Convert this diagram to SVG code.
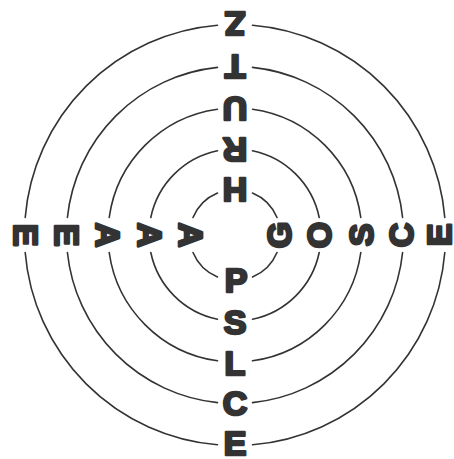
<svg xmlns="http://www.w3.org/2000/svg" width="454" height="459" viewBox="0 0 454 459">
<style>
.ring{fill:none;stroke:#333;stroke-width:1.6;stroke-linecap:round}
.l{font-family:"Liberation Sans",Arial,sans-serif;font-weight:bold;font-size:34px;fill:#333;stroke:#333;stroke-width:2.6;stroke-linejoin:round;text-anchor:middle}
</style>
<rect width="454" height="459" fill="#fff"/>
<g id="rings">
<path class="ring" d="M252.5,193 A45.5,45.5 0 0 1 277,217.5 M277,252.5 A45.5,45.5 0 0 1 252.5,277 M217.5,277 A45.5,45.5 0 0 1 193,252.5 M193,217.5 A45.5,45.5 0 0 1 217.5,193"/>
<path class="ring" d="M252.5,150.8 A86,86 0 0 1 319.2,217.5 M319.2,252.5 A86,86 0 0 1 252.5,319.2 M217.5,319.2 A86,86 0 0 1 150.8,252.5 M150.8,217.5 A86,86 0 0 1 217.5,150.8"/>
<path class="ring" d="M252.5,109.2 A127,127 0 0 1 360.8,217.5 M360.8,252.5 A127,127 0 0 1 252.5,360.8 M217.5,360.8 A127,127 0 0 1 109.2,252.5 M109.2,217.5 A127,127 0 0 1 217.5,109.2"/>
<path class="ring" d="M252.5,67.4 A168.5,168.5 0 0 1 402.6,217.5 M402.6,252.5 A168.5,168.5 0 0 1 252.5,402.6 M217.5,402.6 A168.5,168.5 0 0 1 67.4,252.5 M67.4,217.5 A168.5,168.5 0 0 1 217.5,67.4"/>
<path class="ring" d="M252.5,25.2 A210.5,210.5 0 0 1 444.8,217.5 M444.8,252.5 A210.5,210.5 0 0 1 252.5,444.8 M217.5,444.8 A210.5,210.5 0 0 1 25.2,252.5 M25.2,217.5 A210.5,210.5 0 0 1 217.5,25.2"/>
</g>
<g id="top">
<g id="t1" transform="translate(235,190) rotate(180)"><text class="l" y="12.2">H</text></g>
<g id="t2" transform="translate(235,150) rotate(180)"><text class="l" y="12.2">R</text></g>
<g id="t3" transform="translate(235,109) rotate(180)"><text class="l" y="12.2">U</text></g>
<g id="t4" transform="translate(235,67) rotate(180)"><text class="l" y="12.2">T</text></g>
<g id="t5" transform="translate(235,24) rotate(180)"><text class="l" y="12.2">Z</text></g>
</g>
<g id="bottom">
<g id="b1" transform="translate(236,280)"><text class="l" y="12.2">P</text></g>
<g id="b2" transform="translate(235,322)"><text class="l" y="12.2">S</text></g>
<g id="b3" transform="translate(235,363)"><text class="l" y="12.2">L</text></g>
<g id="b4" transform="translate(235,403)"><text class="l" y="12.2">C</text></g>
<g id="b5" transform="translate(235,443)"><text class="l" y="12.2">E</text></g>
</g>
<g id="left">
<g id="l1" transform="translate(191,235) rotate(90)"><text class="l" y="12.2">A</text></g>
<g id="l2" transform="translate(150,235) rotate(90)"><text class="l" y="12.2">A</text></g>
<g id="l3" transform="translate(108,235) rotate(90)"><text class="l" y="12.2">A</text></g>
<g id="l4" transform="translate(67,235) rotate(90)"><text class="l" y="12.2">E</text></g>
<g id="l5" transform="translate(26,235) rotate(90)"><text class="l" y="12.2">E</text></g>
</g>
<g id="right">
<g id="r1" transform="translate(279,235) rotate(-90)"><text class="l" y="12.2">G</text></g>
<g id="r2" transform="translate(319,235) rotate(-90)"><text class="l" y="12.2">O</text></g>
<g id="r3" transform="translate(361,235) rotate(-90)"><text class="l" y="12.2">S</text></g>
<g id="r4" transform="translate(401,235) rotate(-90)"><text class="l" y="12.2">C</text></g>
<g id="r5" transform="translate(439,235) rotate(-90)"><text class="l" y="12.2">E</text></g>
</g>
</svg>
